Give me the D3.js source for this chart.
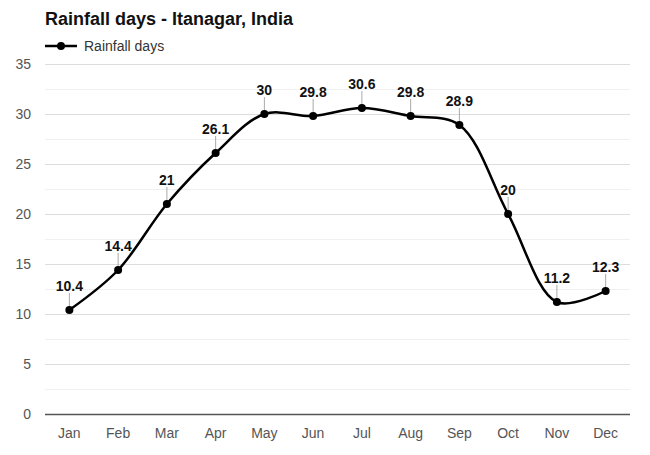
<!DOCTYPE html>
<html><head><meta charset="utf-8">
<script src="https://cdn.jsdelivr.net/npm/d3@7"></script>
<style>
body{margin:0;background:#fff;font-family:"Liberation Sans",Arial,sans-serif;}
</style></head>
<body><svg id="c" width="650" height="455"></svg>
<script>
const months = ["Jan","Feb","Mar","Apr","May","Jun","Jul","Aug","Sep","Oct","Nov","Dec"];
const rainfallDays = [10.4,14.4,21,26.1,30,29.8,30.6,29.8,28.9,20,11.2,12.3];
const yTicks = [0,5,10,15,20,25,30,35];
const minorTicks = [2.5,7.5,12.5,17.5,22.5,27.5,32.5];
const title = "Rainfall days - Itanagar, India";
const seriesName = "Rainfall days";

const svg = d3.select("#c");
const x = d3.scaleBand().domain(months).range([45,630]);
const y = d3.scaleLinear().domain([0,35]).range([414,64]);

svg.append("text").attr("x",45).attr("y",25).attr("font-size",18).attr("font-weight","bold").attr("fill","#111").text(title);

// legend
const lg = svg.append("g");
lg.append("line").attr("x1",45).attr("x2",77).attr("y1",46).attr("y2",46).attr("stroke","#000").attr("stroke-width",2.5);
lg.append("circle").attr("cx",61).attr("cy",46).attr("r",4).attr("fill","#000");
lg.append("text").attr("x",84).attr("y",51).attr("font-size",14).attr("fill","#333").text(seriesName);

// grid
svg.append("g").selectAll("line").data(minorTicks).join("line")
  .attr("x1",45).attr("x2",630).attr("y1",d=>y(d)+0.5).attr("y2",d=>y(d)+0.5).attr("stroke","#f0f0f0");
svg.append("g").selectAll("line").data(yTicks.filter(d=>d>0)).join("line")
  .attr("x1",45).attr("x2",630).attr("y1",d=>y(d)+0.5).attr("y2",d=>y(d)+0.5).attr("stroke","#ddd");
svg.append("line").attr("x1",45).attr("x2",630).attr("y1",y(0)+0.5).attr("y2",y(0)+0.5).attr("stroke","#555").attr("stroke-width",1.5);

// y labels
svg.append("g").selectAll("text").data(yTicks).join("text")
  .attr("x",31).attr("y",d=>y(d)+5).attr("text-anchor","end").attr("font-size",14).attr("fill","#555").text(d=>d);
// x labels
svg.append("g").selectAll("text").data(months).join("text")
  .attr("x",d=>x(d)+x.bandwidth()/2).attr("y",438).attr("text-anchor","middle").attr("font-size",14).attr("fill","#555").text(d=>d);

const data = months.map((m,i)=>({m,v:rainfallDays[i]}));
const cx = d=>x(d.m)+x.bandwidth()/2;

// leader lines
svg.append("g").selectAll("line").data(data).join("line")
  .attr("x1",cx).attr("x2",cx).attr("y1",d=>y(d.v)-17).attr("y2",d=>y(d.v)).attr("stroke","#aaa").attr("stroke-width",1);

const line = d3.line().x(cx).y(d=>y(d.v)).curve(d3.curveCatmullRom.alpha(0.5));
svg.append("path").datum(data).attr("d",line).attr("fill","none").attr("stroke","#000").attr("stroke-width",2.5);
svg.append("g").selectAll("circle").data(data).join("circle")
  .attr("cx",cx).attr("cy",d=>y(d.v)).attr("r",4).attr("fill","#000");

svg.append("g").selectAll("text").data(data).join("text")
  .attr("x",cx).attr("y",d=>y(d.v)-19).attr("text-anchor","middle").attr("font-size",14).attr("font-weight","bold").attr("fill","#111").text(d=>d.v);
</script></body></html>
